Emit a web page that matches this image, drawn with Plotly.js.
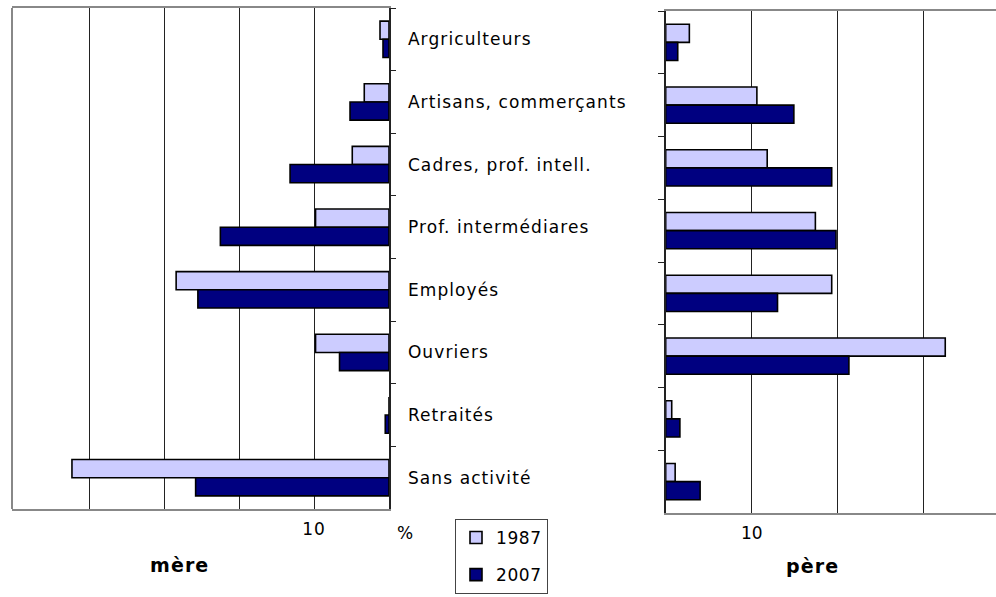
<!DOCTYPE html>
<html><head><meta charset="utf-8">
<script src="https://cdn.plot.ly/plotly-3.0.1.min.js"></script>
<style>
html,body{margin:0;padding:0;background:#fff}
#chart{width:996px;height:597px}
svg .ytick text, svg .xtick text, svg .annotation-text {letter-spacing:1.1px}
svg .legendtext {letter-spacing:0.6px}
</style>
</head><body><div id="chart"></div>
<script>
const categories = ["Argriculteurs","Artisans, commerçants","Cadres, prof. intell.","Prof. intermédiares","Employés","Ouvriers","Retraités","Sans activité"];
const mere1987 = [1.2, 3.3, 4.9, 9.8, 28.4, 9.8, 0, 42.3];
const mere2007 = [0.8, 5.2, 13.2, 22.5, 25.5, 6.6, 0.5, 25.8];
const pere1987 = [2.75, 10.6, 11.8, 17.4, 19.3, 32.5, 0.7, 1.1];
const pere2007 = [1.4, 14.9, 19.3, 19.8, 13.0, 21.3, 1.65, 4.0];
const gridVals = [10, 20, 30, 40];
const gridText = ["10", "", "", ""];

const W = 996, H = 597;
const c1987 = "#CCCCFF", c2007 = "#000080";
const line = {color: "#000", width: 1.6};
const fam = "DejaVu Sans, Verdana, sans-serif";
const font = {family: fam, size: 17, color: "#000"};

const traces = [
  {type:"bar", orientation:"h", name:"1987", y:categories, x:mere1987, xaxis:"x", yaxis:"y",
   marker:{color:c1987, line:line}, legendgroup:"a", hoverinfo:"x+y"},
  {type:"bar", orientation:"h", name:"2007", y:categories, x:mere2007, xaxis:"x", yaxis:"y",
   marker:{color:c2007, line:line}, legendgroup:"b", hoverinfo:"x+y"},
  {type:"bar", orientation:"h", name:"1987", y:categories, x:pere1987, xaxis:"x2", yaxis:"y2",
   marker:{color:c1987, line:line}, legendgroup:"a", showlegend:false, hoverinfo:"x+y"},
  {type:"bar", orientation:"h", name:"2007", y:categories, x:pere2007, xaxis:"x2", yaxis:"y2",
   marker:{color:c2007, line:line}, legendgroup:"b", showlegend:false, hoverinfo:"x+y"}
];

const layout = {
  width: W, height: H,
  margin: {l:0, r:0, t:0, b:0},
  paper_bgcolor: "#fff", plot_bgcolor: "#fff",
  font: font,
  barmode: "group",
  bargap: 0.42, bargroupgap: 0,
  xaxis: {
    domain: [12/W, 389/W], range: [50.3, 0], anchor: "y",
    tickvals: gridVals, ticktext: gridText, ticks: "", ticklabelstandoff: 4,
    showgrid: true, gridcolor: "#222", gridwidth: 1, zeroline: false,
    showline: true, linecolor: "#888", linewidth: 2, mirror: true,
    tickfont: font, fixedrange: true
  },
  yaxis: {
    domain: [1-509/H, 1-8/H], anchor: "x", side: "right",
    autorange: "reversed", type: "category",
    ticks: "outside", tickson: "boundaries", ticklen: 5, tickcolor: "#222",
    showline: true, linecolor: "#222", linewidth: 1.5,
    showticklabels: true, ticklabelstandoff: 14, tickfont: font,
    showgrid: false, zeroline: false, fixedrange: true
  },
  xaxis2: {
    domain: [665.7/W, 1], range: [0, 38.4], anchor: "y2",
    tickvals: gridVals, ticktext: gridText, ticks: "", ticklabelstandoff: 4,
    showgrid: true, gridcolor: "#222", gridwidth: 1, zeroline: false,
    showline: true, linecolor: "#888", linewidth: 2, mirror: true,
    tickfont: font, fixedrange: true
  },
  yaxis2: {
    domain: [1-513/H, 1-11/H], anchor: "x2", side: "left",
    autorange: "reversed", type: "category",
    ticks: "outside", tickson: "boundaries", ticklen: 6, tickcolor: "#222",
    showline: true, linecolor: "#222", linewidth: 1.5,
    showticklabels: false, showgrid: false, zeroline: false, fixedrange: true
  },
  shapes: [
    {type:"line", xref:"x domain", yref:"y domain", x0:0, x1:0, y0:0, y1:1,
     line:{color:"#888", width:2}}
  ],
  annotations: [
    {text:"%", xref:"paper", yref:"paper", x:405/W, y:1-533/H, showarrow:false,
     xanchor:"center", yanchor:"middle", font:font},
    {text:"<b>mère</b>", xref:"paper", yref:"paper", x:179/W, y:1-565/H, showarrow:false,
     xanchor:"center", yanchor:"middle", font:{family:fam, size:19, color:"#000"}},
    {text:"<b>père</b>", xref:"paper", yref:"paper", x:812/W, y:1-566/H, showarrow:false,
     xanchor:"center", yanchor:"middle", font:{family:fam, size:19, color:"#000"}}
  ],
  legend: {
    x: 455/W, y: 1-519/H, xanchor: "left", yanchor: "top",
    bordercolor: "#444", borderwidth: 1, bgcolor: "#fff",
    font: font, traceorder: "grouped", tracegroupgap: 12,
    itemwidth: 30
  },
  showlegend: true
};

Plotly.newPlot("chart", traces, layout, {displayModeBar:false, staticPlot:true});
</script></body></html>
